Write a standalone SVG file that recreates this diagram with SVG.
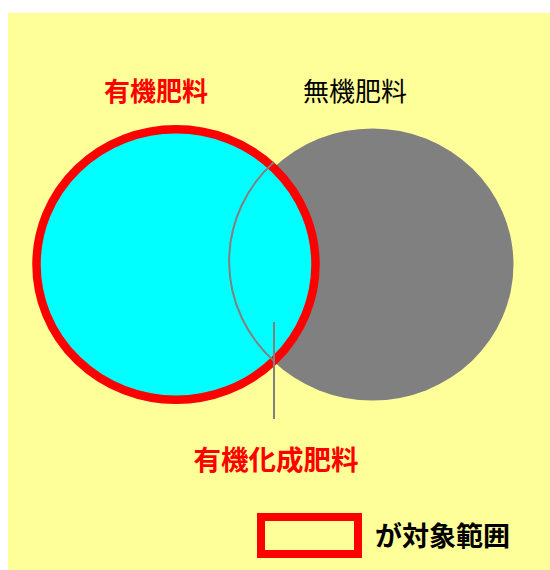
<svg xmlns="http://www.w3.org/2000/svg" width="550" height="570" viewBox="0 0 550 570">
<style>
.lbl{font-family:"Noto Sans CJK JP","Noto Sans",sans-serif;font-size:26px}
.red{fill:#FF0000;font-weight:bold}
.blk{fill:#000000}
</style>
<rect x="0" y="0" width="550" height="570" fill="#FFFFFF"/>
<rect x="8" y="13" width="542" height="557" fill="#FFFF99"/>
<g id="inorganic">
<ellipse cx="372.5" cy="264.5" rx="141" ry="136" fill="#808080"/>
<text class="lbl blk" x="355" y="101" text-anchor="middle">無機肥料</text>
</g>
<g id="organic">
<ellipse cx="176" cy="264.5" rx="139.5" ry="135.3" fill="#00FFFF" stroke="#FF0000" stroke-width="8.5"/>
<text class="lbl red" x="156" y="101" text-anchor="middle">有機肥料</text>
</g>
<g id="connectors">
<path d="M 274 162 A 141 136 0 0 0 274 361" fill="none" stroke="#808080" stroke-width="2"/>
<line x1="274" y1="322" x2="274" y2="419" stroke="#808080" stroke-width="2"/>
</g>
<g id="organic-chemical">
<text class="lbl red" x="276" y="470" text-anchor="middle" style="font-size:27.5px">有機化成肥料</text>
</g>
<g id="legend">
<rect x="261" y="517" width="97" height="37" fill="none" stroke="#FF0000" stroke-width="8"/>
<text class="lbl blk" x="375" y="546" style="font-size:27px;font-weight:bold">が対象範囲</text>
</g>
</svg>
